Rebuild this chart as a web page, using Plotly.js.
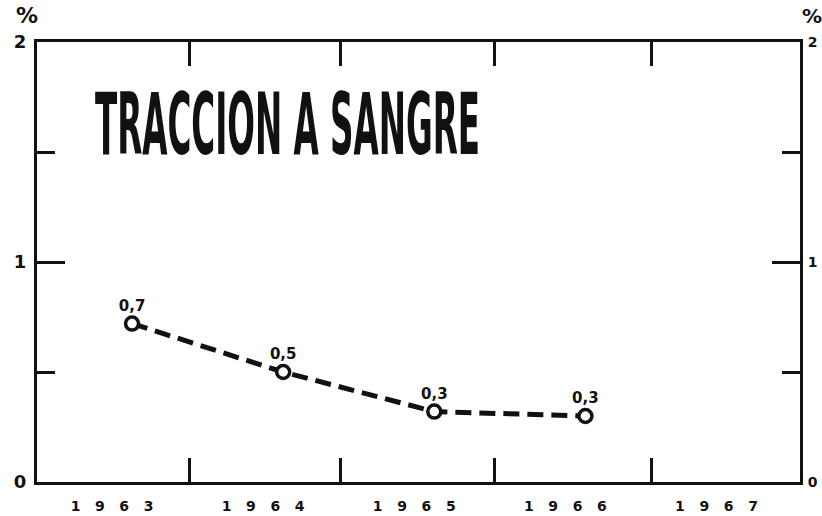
<!DOCTYPE html>
<html>
<head>
<meta charset="utf-8">
<script src="https://cdn.plot.ly/plotly-3.0.1.min.js"></script>
<style>
  html, body { margin: 0; padding: 0; background: #fff; }
  #chart { width: 822px; height: 516px; }
</style>
</head>
<body>
<div id="chart"></div>
<script>
// ---- data ----
const years = [1963, 1964, 1965, 1966];
const values = [0.72, 0.50, 0.32, 0.30];
const valueLabels = ['0,7', '0,5', '0,3', '0,3'];
const yearTicks = [1963, 1964, 1965, 1966, 1967];
const yearTickText = ['1963', '1964', '1965', '1966', '1967'];
const yTicks = [0, 1, 2];
const yTickText = ['0', '1', '2'];
const chartTitle = 'TRACCION A SANGRE';

const ink = '#111';
const spaced = s => s.split('').join('\u00A0\u00A0\u00A0');
const xRange = [1962.371, 1967.42];

const trace = {
  x: years,
  y: values,
  type: 'scatter',
  mode: 'lines+markers+text',
  text: valueLabels,
  textposition: 'top center',
  textfont: { family: 'DejaVu Sans', size: 15, color: ink, weight: 'bold' },
  line: { color: ink, width: 5, dash: '16px,8px' },
  marker: { symbol: 'circle', size: 13, color: '#fff', line: { color: ink, width: 3.5 } },
  cliponaxis: false,
  hoverinfo: 'skip',
  showlegend: false
};

// invisible companion trace so that the frame axes (top/right) are drawn
const frameTrace = {
  x: years,
  y: values,
  xaxis: 'x2',
  yaxis: 'y2',
  type: 'scatter',
  mode: 'lines',
  opacity: 0,
  line: { width: 0 },
  hoverinfo: 'skip',
  showlegend: false
};

const yCommon = {
  range: [0, 2],
  tickvals: yTicks,
  ticktext: yTickText,
  ticks: 'inside',
  ticklen: 28,
  tickwidth: 3,
  tickcolor: ink,
  minor: { tickvals: [0.5, 1.5], ticks: 'inside', ticklen: 18, tickwidth: 3, tickcolor: ink },
  showline: true,
  linewidth: 3,
  linecolor: ink,
  showgrid: false,
  zeroline: false,
  fixedrange: true
};

const layout = {
  width: 822,
  height: 516,
  margin: { l: 37, r: 22, t: 42, b: 34 },
  paper_bgcolor: '#fff',
  plot_bgcolor: '#fff',
  showlegend: false,
  xaxis: {
    range: xRange,
    tickvals: yearTicks,
    ticktext: yearTickText.map(spaced),
    ticks: '',
    showline: false,
    showgrid: false,
    zeroline: false,
    fixedrange: true,
    tickfont: { family: 'DejaVu Sans', size: 14, color: ink, weight: 'bold' },
    ticklabelshift: -20,
    ticklabelstandoff: 14
  },
  xaxis2: {
    overlaying: 'x',
    anchor: 'y2',
    side: 'bottom',
    range: xRange,
    tickvals: [1963.38, 1964.38, 1965.40, 1966.44],
    ticks: 'inside',
    ticklen: 24,
    tickwidth: 3,
    tickcolor: ink,
    showticklabels: false,
    showline: true,
    linewidth: 3,
    linecolor: ink,
    mirror: 'ticks',
    showgrid: false,
    zeroline: false,
    fixedrange: true
  },
  yaxis: Object.assign({}, yCommon, {
    side: 'left',
    tickfont: { family: 'DejaVu Sans', size: 18, color: ink, weight: 'bold' },
    ticklabelstandoff: 4
  }),
  yaxis2: Object.assign({}, yCommon, {
    side: 'right', overlaying: 'y', anchor: 'x2',
    tickfont: { family: 'DejaVu Sans', size: 14, color: ink, weight: 'bold' },
    ticklabelstandoff: 2
  }),
  annotations: [
    {
      text: chartTitle,
      xref: 'paper', yref: 'paper',
      x: 0.0732, y: 0.8136,
      xanchor: 'left', yanchor: 'middle',
      showarrow: false,
      font: { family: 'DejaVu Sans Condensed, Liberation Sans, DejaVu Sans, sans-serif', size: 86, color: ink, weight: 'bold' }
    },
    {
      text: '%',
      xref: 'paper', yref: 'paper',
      x: -0.013, y: 1.06, xanchor: 'center', yanchor: 'middle',
      showarrow: false,
      font: { family: 'DejaVu Sans', size: 22, color: ink, weight: 'bold' }
    },
    {
      text: '%',
      xref: 'paper', yref: 'paper',
      x: 1.016, y: 1.06, xanchor: 'center', yanchor: 'middle',
      showarrow: false,
      font: { family: 'DejaVu Sans', size: 20, color: ink, weight: 'bold' }
    }
  ]
};

Plotly.newPlot('chart', [trace, frameTrace], layout, { staticPlot: true, displayModeBar: false }).then(gd => {
  // compress the title horizontally like the condensed lettering of the original
  const t = gd.querySelector('.annotation-text');
  if (t) {
    const bb = t.getBBox();
    const sx = 385 / bb.width;
    const x0 = bb.x;
    t.setAttribute('transform', `translate(${x0} 0) scale(${sx} 1) translate(${-x0} 0)`);
  }
});
</script>
</body>
</html>
